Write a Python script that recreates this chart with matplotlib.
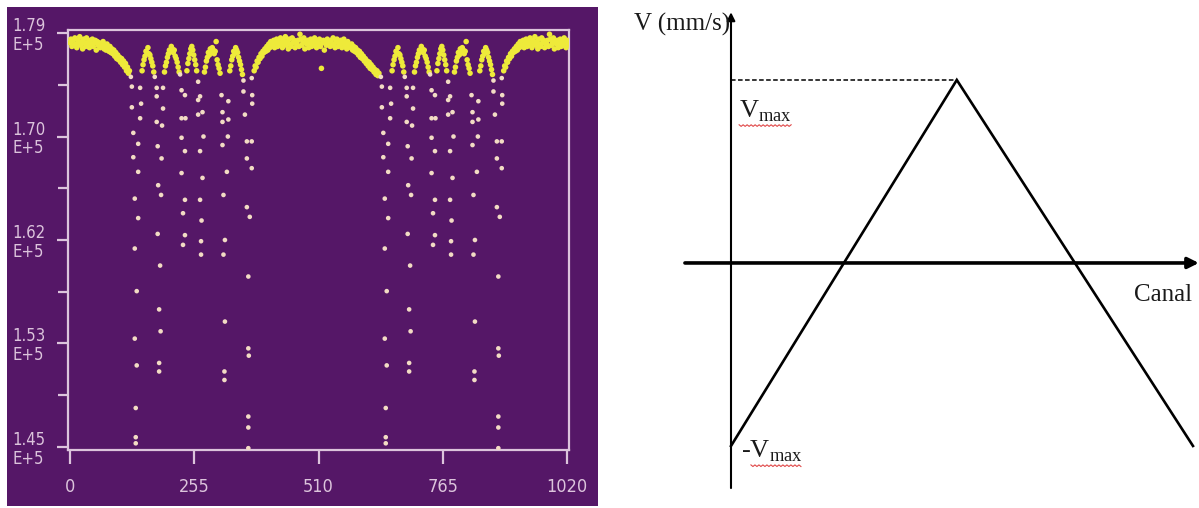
import numpy as np
import matplotlib
matplotlib.use('Agg')
import matplotlib.pyplot as plt
from matplotlib.patches import Rectangle
from matplotlib.lines import Line2D

# ---------------- left panel : Mossbauer spectrum (counts, x1000) ----------------
# flat parts of the spectrum, one point every 2 channels
flat_start = [0, 378, 890]
flat_counts = [
    [178.2, 178.5, 177.9, 178.4, 178.0, 178.6, 178.1, 177.8, 178.4, 178.2, 178.7,
     178.0, 178.3, 177.7, 178.5, 178.2, 177.9, 178.6, 178.1, 178.3, 177.8, 178.4,
     178.1, 178.5, 177.9, 178.2, 178.4, 177.6, 178.3, 178.0, 178.2, 177.8, 178.1,
     177.9, 178.3, 177.7, 178.0, 177.6, 178.1, 177.8, 177.5, 177.9, 177.4, 177.7,
     177.3, 177.6, 177.1, 177.4, 176.9, 177.2, 176.8, 177.0, 176.6, 176.9, 176.4,
     176.7, 176.2, 176.5, 175.9, 176.2, 175.7, 175.9],
    [175.9, 176.3, 176.2, 176.7, 176.6, 177.0, 176.9, 177.3, 177.1, 177.5, 177.4,
     177.7, 177.5, 177.9, 177.6, 178.1, 177.8, 178.3, 177.9, 178.0, 178.4, 177.8,
     178.2, 178.5, 177.9, 178.3, 178.0, 178.6, 178.2, 177.8, 178.4, 178.1, 178.7,
     178.0, 178.3, 177.7, 178.5, 178.1, 177.9, 178.6, 178.2, 178.4, 177.8, 178.3,
     178.1, 178.4, 177.9, 178.9, 178.5, 178.0, 178.2, 178.6, 177.7, 178.3, 178.1,
     178.4, 177.8, 178.2, 178.5, 177.9, 178.3, 178.0, 178.6, 178.2, 177.8, 178.4,
     178.1, 178.5, 177.9, 176.1, 178.2, 178.4, 177.6, 178.3, 178.0, 178.5, 178.1,
     178.3, 177.9, 178.4, 178.0, 178.6, 178.1, 177.8, 178.3, 178.5, 177.9, 178.2,
     178.0, 178.4, 177.8, 178.2, 178.5, 177.9, 178.1, 177.7, 178.3, 177.9, 178.0,
     177.8, 178.1, 177.6, 177.9, 177.5, 177.8, 177.4, 177.6, 177.2, 177.5, 177.0,
     177.3, 176.9, 177.1, 176.7, 176.9, 176.5, 176.7, 176.3, 176.6, 176.1, 176.4,
     176.0, 176.2, 175.8, 176.0, 175.6, 175.9, 175.5, 175.7],
    [175.9, 176.3, 176.2, 176.7, 176.6, 177.0, 176.9, 177.3, 177.1, 177.5, 177.4,
     177.7, 177.5, 177.9, 177.6, 178.1, 177.8, 178.3, 177.9, 178.0, 178.4, 177.8,
     178.2, 178.5, 177.9, 178.3, 178.0, 178.6, 178.2, 177.8, 178.4, 178.1, 178.7,
     178.0, 178.3, 177.7, 178.5, 178.1, 177.9, 178.6, 178.2, 178.4, 177.8, 178.3,
     178.1, 178.4, 177.9, 178.9, 178.5, 178.0, 178.2, 178.6, 177.7, 178.3, 178.1,
     178.4, 177.8, 178.2, 178.5, 177.9, 178.3, 178.0, 178.6, 178.2, 177.8, 178.4,
     178.1],
]
chan_step = 2

# the sextet appears twice (same shape), second copy 513 channels later
sextet_shift = [0, 513]

# humps between the six lines ("A" shapes), every 2 channels
hump_start = [148, 194, 240, 276, 328]
hump_counts = [
    [175.9, 176.4, 176.8, 177.1, 177.5, 177.4, 177.8, 177.3, 177.2, 176.9, 176.6, 176.3, 175.8],
    [175.8, 176.3, 176.6, 177.0, 177.3, 177.6, 177.5, 177.9, 177.7, 177.4, 177.6, 177.1,
     176.9, 176.6, 176.2, 175.8],
    [175.9, 176.5, 176.9, 177.3, 177.7, 177.9, 177.6, 177.2, 176.8, 176.4, 175.9],
    [175.8, 176.2, 176.7, 177.0, 177.4, 177.2, 177.7, 177.5, 177.8, 177.6, 177.3, 177.5,
     178.3, 176.8, 176.4, 176.1, 175.7],
    [175.9, 176.3, 176.8, 177.1, 177.5, 177.3, 177.8, 177.6, 177.4, 177.0, 176.7, 176.4,
     176.0, 175.6],
]

# points inside the six absorption lines
dip_ch = [
    125, 127, 144, 146, 127, 144, 130, 140, 130, 140, 133, 140, 133, 137, 133, 137, 135, 135, 135,
    174, 178, 191, 178, 191, 178, 189, 180, 188, 181, 187, 180, 185, 183, 186, 183, 183,
    226, 229, 236, 229, 237, 229, 236, 229, 236, 232, 236, 232,
    263, 267, 263, 272, 263, 274, 267, 272, 267, 270, 269, 269,
    311, 325, 313, 325, 313, 324, 313, 322, 315, 318, 315, 318, 317, 317,
    356, 373, 356, 374, 374, 359, 363, 373, 363, 373, 363, 369, 366, 366, 367, 366, 366, 366,
]
dip_counts = [
    175.4, 174.6, 174.5, 173.2, 172.9, 172.0, 170.8, 169.9, 168.8, 167.6, 165.4, 163.8,
    161.3, 157.8, 153.9, 151.7, 148.2, 145.8, 145.3,
    175.4, 174.5, 174.5, 173.8, 172.8, 171.7, 171.4, 169.7, 168.7, 166.5, 165.7, 162.5,
    159.9, 156.3, 154.5, 151.9, 151.2,
    175.6, 174.3, 173.9, 172.0, 172.0, 170.4, 169.3, 167.5, 165.3, 164.2, 162.4, 161.6,
    175.0, 173.8, 173.5, 172.5, 172.3, 170.5, 169.3, 167.1, 165.3, 163.6, 161.9, 160.8,
    173.9, 173.4, 172.5, 171.9, 171.7, 170.5, 169.8, 167.6, 165.7, 162.0, 160.8, 155.3,
    151.2, 150.5,
    175.1, 175.3, 174.2, 173.9, 173.2, 172.3, 170.1, 170.1, 168.7, 167.9, 164.7, 163.9,
    159.0, 153.1, 152.5, 147.5, 146.6, 144.9,
]

x_ticks = [0, 255, 510, 765, 1020]
y_ticks = [145.0, 153.5, 162.0, 170.5, 179.0]
y_ticklabels = ["1.45\nE+5", "1.53\nE+5", "1.62\nE+5", "1.70\nE+5", "1.79\nE+5"]

# ---------------- right panel : velocity vs channel ----------------
wave_canal = [0, 500, 1023]
wave_v = [-1.0, 1.0, -1.0]   # in units of Vmax
v_max = 1.0

purple = '#551767'
pale = '#dcc4dc'
yellow = '#eeea3a'
cream = '#f3dcc4'
narrow = ['Liberation Sans Narrow', 'DejaVu Sans']
serif = ['Liberation Serif', 'DejaVu Serif']

plt.rcParams['mathtext.fontset'] = 'custom'
plt.rcParams['mathtext.rm'] = 'Liberation Serif'

W, H = 1199, 508
fig = plt.figure(figsize=(W / 100, H / 100), dpi=100)


def fx(px):
    return px / W


def fy(py):
    return 1 - py / H


# purple background of the left picture (behind the axes)
fig.patches.append(Rectangle((fx(7), fy(506)), fx(598) - fx(7), fy(7) - fy(506),
                             transform=fig.transFigure, facecolor=purple,
                             edgecolor='none', zorder=-5))

ax = fig.add_axes([fx(68), fy(450), fx(569) - fx(68), fy(30) - fy(450)])
ax.set_facecolor(purple)

# flat parts + humps, drawn yellow
base_x, base_y = [], []
for start, vals in zip(flat_start, flat_counts):
    base_x.append(start + chan_step * np.arange(len(vals)))
    base_y.append(np.array(vals))
for shift in sextet_shift:
    for start, vals in zip(hump_start, hump_counts):
        base_x.append(start + shift + chan_step * np.arange(len(vals)))
        base_y.append(np.array(vals))
ax.scatter(np.concatenate(base_x), np.concatenate(base_y), s=16, c=yellow,
           edgecolors='none', zorder=3)

# absorption lines
for shift in sextet_shift:
    ax.scatter(np.array(dip_ch) + shift, dip_counts, s=11, c=cream,
               edgecolors='none', zorder=3)

ax.set_xlim(-4, 1024)
ax.set_ylim(144.75, 179.25)

for sp in ax.spines.values():
    sp.set_color(pale)
    sp.set_linewidth(1.6)

ax.set_xticks(x_ticks, [str(t) for t in x_ticks])
ax.set_yticks(y_ticks, y_ticklabels)
ax.set_yticks([(a + b) / 2 for a, b in zip(y_ticks[:-1], y_ticks[1:])], minor=True)
ax.tick_params(axis='x', direction='out', length=10, width=1.6, colors=pale,
               pad=10, labelsize=13)
ax.tick_params(axis='y', which='major', direction='out', length=8, width=1.6,
               colors=pale, pad=8, labelsize=12)
ax.tick_params(axis='y', which='minor', direction='out', length=7, width=1.6,
               colors=pale)
for lbl in ax.get_xticklabels() + ax.get_yticklabels():
    lbl.set_fontfamily(narrow)
    lbl.set_fontstretch('condensed')
for lbl in ax.get_yticklabels():
    lbl.set_multialignment('left')
    lbl.set_linespacing(1.05)
    lbl.set_verticalalignment('center_baseline')

# ---------------- right panel ----------------
ax2 = fig.add_axes([fx(640), 0, 1 - fx(640), 1])
ax2.set_xlim(-201.5, 1036.3)
ax2.set_ylim(-1.339, 1.437)
ax2.axis('off')

# axes of the sketch, with arrows
ax2.annotate('', xy=(1036, 0), xytext=(-102, 0),
             arrowprops=dict(arrowstyle='-|>', lw=2.6, color='black',
                             mutation_scale=16, shrinkA=0, shrinkB=0))
ax2.annotate('', xy=(0, 1.37), xytext=(0, -1.23),
             arrowprops=dict(arrowstyle='-|>', lw=1.5, color='black',
                             mutation_scale=12, shrinkA=0, shrinkB=0))

ax2.plot(wave_canal, wave_v, color='black', lw=1.9, solid_joinstyle='miter')
ax2.hlines(v_max, 0, wave_canal[1], colors='black', lw=1.1,
           linestyles=(0, (3, 1.6)))

ax2.text(-3, 1.305, 'V (mm/s)', ha='right', va='center', fontsize=18,
         fontfamily=serif, color='#1a1a1a')
t_top = ax2.text(18, 0.83, r'$\mathrm{V}_{\mathrm{max}}$', ha='left', va='center',
                 fontsize=19, color='#1a1a1a')
t_bot = ax2.text(22, -1.03, r'-$\mathrm{V}_{\mathrm{max}}$', ha='left', va='center',
                 fontsize=19, fontfamily=serif, color='#1a1a1a')
ax2.text(1022, -0.175, 'Canal', ha='right', va='center', fontsize=18,
         fontfamily=serif, color='#1a1a1a')

# red spell-check squiggle under the two Vmax labels (pixel units, zig-zag)
fig.canvas.draw()
for t, skip in ((t_top, 0), (t_bot, 10)):
    bb = t.get_window_extent()
    zx = np.arange(bb.x0 + skip, bb.x1, 2.0)
    zy = bb.y0 - 1.5 + np.where(np.arange(len(zx)) % 2 == 0, 0.8, -0.8)
    fig.add_artist(Line2D(zx, zy, transform=None, color='#e04848', lw=0.8))

fig.savefig('out.png', dpi=100, facecolor='white')
